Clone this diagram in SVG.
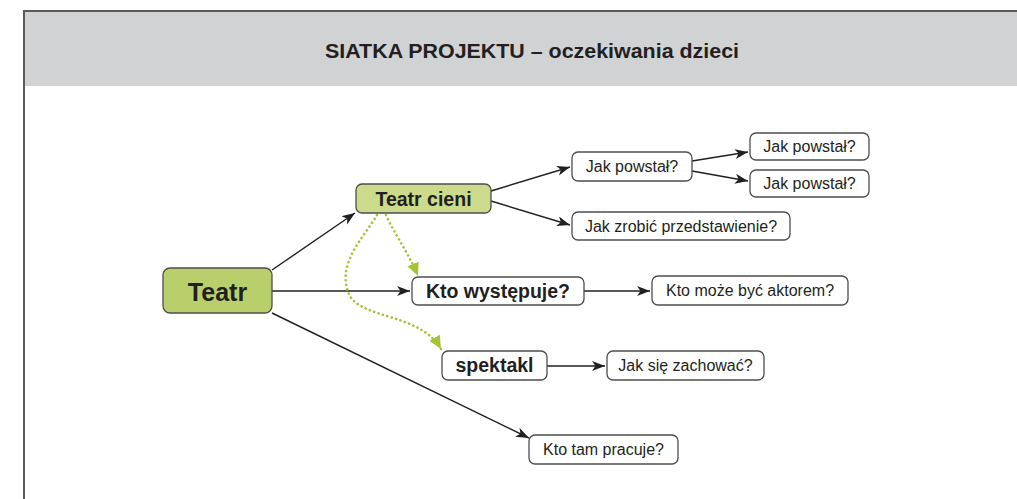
<svg xmlns="http://www.w3.org/2000/svg" width="1017" height="499" viewBox="0 0 1017 499">
<style>
.box{stroke:#4d4d4d;stroke-width:1.3}
.w{fill:#fff}
.g1{fill:#b9cf6b}
.g2{fill:#cbda8b}
.t{font-family:"Liberation Sans",Arial,sans-serif;fill:#231f20}
.s{font-size:16px}
.b{font-weight:bold;font-size:19.5px}
.c{stroke:#231f20;stroke-width:1.4;fill:none}
.d{stroke:#a4c339;stroke-width:2.6;fill:none;stroke-dasharray:0.1 4.5;stroke-linecap:round}
</style>
<defs>
<marker id="ah" markerUnits="userSpaceOnUse" markerWidth="14" markerHeight="12" refX="13" refY="5" orient="auto">
<path d="M0,0 L13,5 L0,10 L3.5,5 z" fill="#231f20"/>
</marker>
<marker id="gh" markerUnits="userSpaceOnUse" markerWidth="14" markerHeight="14" refX="13" refY="6" orient="auto">
<path d="M0,0 L13,6 L0,12 z" fill="#a4c339"/>
</marker>
</defs>
<rect x="0" y="0" width="1017" height="499" fill="#fff"/>
<rect x="24" y="11" width="1010" height="75" fill="#d1d2d4"/>
<path d="M24,510 L24,11 L1030,11" fill="none" stroke="#5a5a5a" stroke-width="2"/>
<text class="t" x="532" y="58" font-size="20" font-weight="bold" text-anchor="middle" textLength="414" lengthAdjust="spacingAndGlyphs">SIATKA PROJEKTU – oczekiwania dzieci</text>

<g id="connectors">
<path class="c" d="M272,270 L355,213" marker-end="url(#ah)"/>
<path class="c" d="M272,291 L410,291" marker-end="url(#ah)"/>
<path class="c" d="M272,313 L529,438" marker-end="url(#ah)"/>
<path class="c" d="M491,191 L570,167" marker-end="url(#ah)"/>
<path class="c" d="M491,201 L570,225" marker-end="url(#ah)"/>
<path class="c" d="M692,161 L748,152" marker-end="url(#ah)"/>
<path class="c" d="M692,171 L748,181" marker-end="url(#ah)"/>
<path class="c" d="M584,291 L650,291" marker-end="url(#ah)"/>
<path class="c" d="M547,366 L605,366" marker-end="url(#ah)"/>
<path class="d" d="M386,215 C395,235 408,252 418,276" marker-end="url(#gh)"/>
<path class="d" d="M377,215 C362,240 338,262 348,292 C358,320 420,312 441,349" marker-end="url(#gh)"/>
</g>

<g id="n-teatr">
<rect class="box g1" x="163" y="268" width="109" height="45" rx="7"/>
<text class="t" x="217.5" y="301" font-size="25" font-weight="bold" text-anchor="middle">Teatr</text>
</g>
<g id="n-teatr-cieni">
<rect class="box g2" x="356" y="184" width="135" height="29" rx="6"/>
<text class="t b" x="423.5" y="206" text-anchor="middle">Teatr cieni</text>
</g>
<g id="n-jak-powstal">
<rect class="box w" x="572" y="152" width="120" height="29" rx="6"/>
<text class="t s" x="632" y="172" text-anchor="middle">Jak powstał?</text>
</g>
<g id="n-jak-powstal-1">
<rect class="box w" x="750" y="133" width="119" height="27" rx="6"/>
<text class="t s" x="809.5" y="152" text-anchor="middle">Jak powstał?</text>
</g>
<g id="n-jak-powstal-2">
<rect class="box w" x="750" y="170" width="119" height="27" rx="6"/>
<text class="t s" x="809.5" y="189" text-anchor="middle">Jak powstał?</text>
</g>
<g id="n-jak-zrobic">
<rect class="box w" x="572" y="212" width="218" height="28" rx="6"/>
<text class="t s" x="681" y="231.5" text-anchor="middle">Jak zrobić przedstawienie?</text>
</g>
<g id="n-kto-wystepuje">
<rect class="box w" x="412" y="277" width="172" height="28" rx="6"/>
<text class="t b" x="498" y="298" text-anchor="middle">Kto występuje?</text>
</g>
<g id="n-kto-moze">
<rect class="box w" x="652" y="276" width="196" height="29" rx="6"/>
<text class="t s" x="750" y="296" text-anchor="middle">Kto może być aktorem?</text>
</g>
<g id="n-spektakl">
<rect class="box w" x="442" y="351" width="105" height="29" rx="6"/>
<text class="t b" x="494.5" y="372" text-anchor="middle">spektakl</text>
</g>
<g id="n-jak-sie">
<rect class="box w" x="607" y="351" width="157" height="29" rx="6"/>
<text class="t s" x="685.5" y="371" text-anchor="middle">Jak się zachować?</text>
</g>
<g id="n-kto-tam">
<rect class="box w" x="529" y="435" width="149" height="29" rx="6"/>
<text class="t s" x="603.5" y="455" text-anchor="middle">Kto tam pracuje?</text>
</g>
</svg>
